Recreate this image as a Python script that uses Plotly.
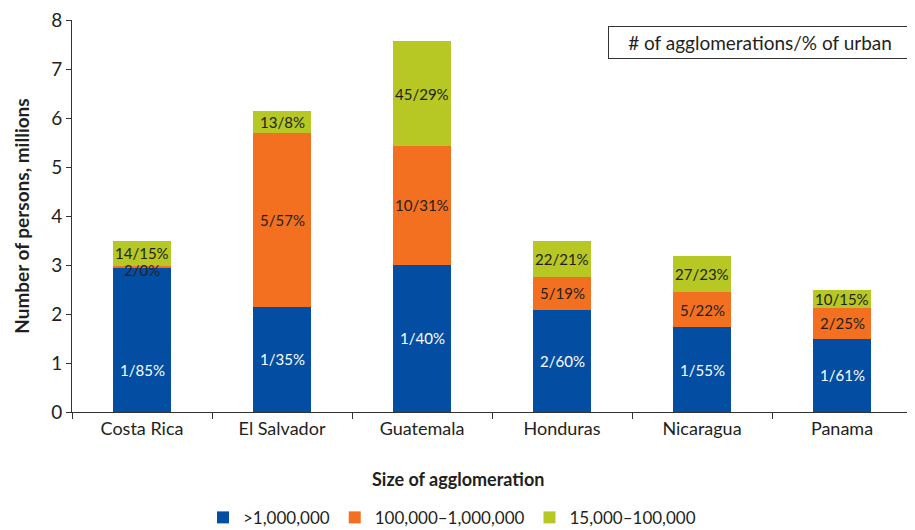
import plotly.graph_objects as go

countries = ["Costa Rica", "El Salvador", "Guatemala", "Honduras", "Nicaragua", "Panama"]
series_names = [">1,000,000", "100,000\u20131,000,000", "15,000\u2013100,000"]
large = [2.95, 2.15, 3.01, 2.09, 1.73, 1.50]
medium = [0.02, 3.54, 2.41, 0.66, 0.71, 0.63]
small = [0.53, 0.46, 2.16, 0.73, 0.74, 0.35]
large_labels = ["1/85%", "1/35%", "1/40%", "2/60%", "1/55%", "1/61%"]
medium_labels = ["2/0%", "5/57%", "10/31%", "5/19%", "5/22%", "2/25%"]
small_labels = ["14/15%", "13/8%", "45/29%", "22/21%", "27/23%", "10/15%"]
y_ticks = [0, 1, 2, 3, 4, 5, 6, 7, 8]

colors = ["#034EA2", "#F37021", "#B7C724"]
label_colors = ["white", "#231F20", "#231F20"]
FONT = "Lato, 'Open Sans', sans-serif"
TXT = "#231F20"

fig = go.Figure()
all_vals = [large, medium, small]
all_labels = [large_labels, medium_labels, small_labels]
for name, vals, col in zip(series_names, all_vals, colors):
    fig.add_trace(go.Bar(x=countries, y=vals, name=name, marker=dict(color=col, line=dict(width=0)),
                         width=0.414))

annotations = []
base = [0.0] * len(countries)
for vals, labs, lc in zip(all_vals, all_labels, label_colors):
    for i, (v, lab) in enumerate(zip(vals, labs)):
        ymid = base[i] + v / 2
        shift = 0
        if lc == "white" and i == 0:
            shift = -30
        if v < 0.1:
            shift = -3
        annotations.append(dict(x=countries[i], y=ymid, text=lab, showarrow=False,
                                font=dict(family=FONT, size=15, color=lc), yshift=shift))
        base[i] += v

annotations.append(dict(x=1.0, y=0.985, xref="paper", yref="paper", xanchor="right", yanchor="top",
                        text="# of agglomerations/% of urban", showarrow=False, width=294, align="center",
                        font=dict(family=FONT, size=19, color=TXT),
                        bordercolor="#333333", borderwidth=1, borderpad=4, bgcolor="white"))
annotations.append(dict(x=-0.061, y=0.5, xref="paper", yref="paper", textangle=-90,
                        text="<b>Number of persons, millions</b>", showarrow=False,
                        font=dict(family=FONT, size=19, color=TXT), xanchor="center", yanchor="middle"))
annotations.append(dict(x=0.5 - 34.5 / 840, y=-0.17, xref="paper", yref="paper",
                        text="<b>Size of agglomeration</b>", showarrow=False,
                        font=dict(family=FONT, size=18, color=TXT), xanchor="center", yanchor="middle"))

# the page body adds an 8px offset, so the figure is 8px smaller on each leading side
fig.update_layout(
    barmode="stack",
    width=907, height=522,
    margin=dict(l=64, r=3, t=12, b=118, autoexpand=False),
    paper_bgcolor="white", plot_bgcolor="white",
    font=dict(family=FONT, size=18, color=TXT),
    annotations=annotations,
    showlegend=True,
    legend=dict(orientation="h", x=0.5 - 40 / 840, xref="paper", xanchor="center", y=-0.27, yanchor="middle",
                traceorder="normal",
                font=dict(family=FONT, size=17, color=TXT), itemwidth=30, tracegroupgap=0),
    xaxis=dict(showline=True, linecolor="#333333", linewidth=1, ticks="outside", ticklen=6,
               tickcolor="#333333", tickson="boundaries", showgrid=False, automargin=False,
               tickfont=dict(family=FONT, size=18, color=TXT)),
    yaxis=dict(range=[0, 8], tickvals=y_ticks, showline=True, linecolor="#333333", linewidth=1,
               ticks="outside", ticklen=5, tickcolor="#333333", showgrid=False, zeroline=False,
               automargin=False, ticklabeloverflow="allow",
               tickfont=dict(family=FONT, size=19, color=TXT)),
)
fig.write_html("out.html")
